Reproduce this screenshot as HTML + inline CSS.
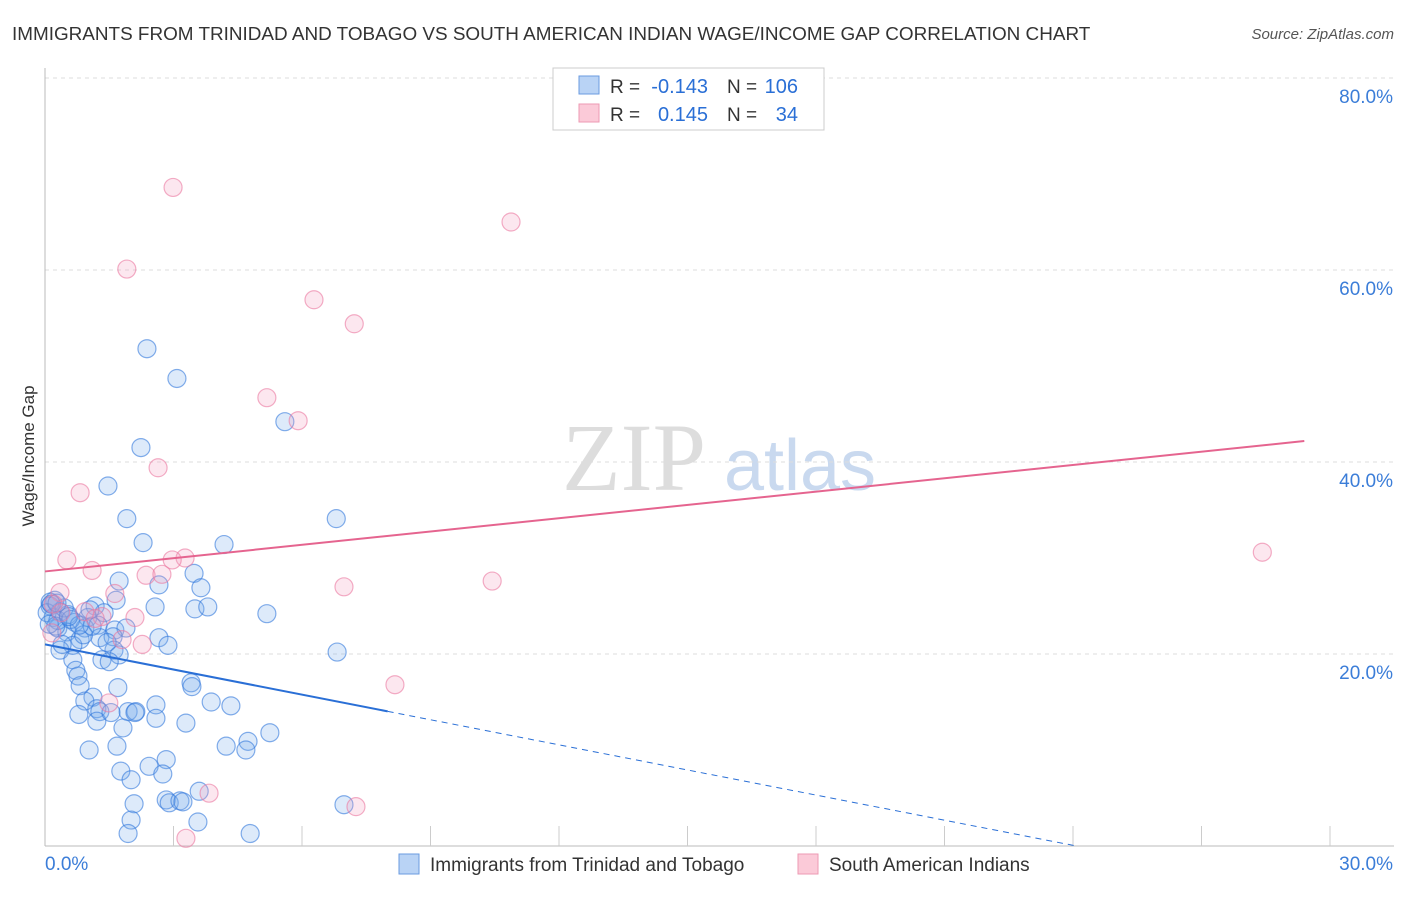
<!DOCTYPE html>
<html><head><meta charset="utf-8"><style>
body{margin:0;background:#fff;font-family:"Liberation Sans",sans-serif;}
svg text{font-family:"Liberation Sans",sans-serif;}
</style></head><body>
<svg id="chart" width="1406" height="892" viewBox="0 0 1406 892">
<text x="12" y="40" font-size="18.9" fill="#333">IMMIGRANTS FROM TRINIDAD AND TOBAGO VS SOUTH AMERICAN INDIAN WAGE/INCOME GAP CORRELATION CHART</text>
<text x="1394" y="39" font-size="15" fill="#555" text-anchor="end" font-style="italic">Source: ZipAtlas.com</text>
<g>
<text x="634" y="490" font-size="96" fill="#ddd" text-anchor="middle" style="font-family:'Liberation Serif',serif">ZIP</text>
<text x="800" y="490" font-size="72" fill="#c9d9ef" text-anchor="middle">atlas</text>
</g>
<g id="grid"></g>
<g id="axes"></g>
<g id="points"></g>
<g id="trends"></g>
<text transform="translate(34,456) rotate(-90)" font-size="17" fill="#333" text-anchor="middle">Wage/Income Gap</text>
<g>
<rect x="553" y="68" width="271" height="62" fill="#fff" stroke="#ccc"/>
<rect x="579" y="76" width="20" height="18" fill="#b9d3f5" stroke="#6a9be0"/>
<rect x="579" y="104" width="20" height="18" fill="#fbcad8" stroke="#ee9ab3"/>
<text x="610" y="93" font-size="19" fill="#333">R =</text>
<text x="708" y="93" font-size="20" fill="#2a6fd6" text-anchor="end">-0.143</text>
<text x="727" y="93" font-size="19" fill="#333">N =</text>
<text x="798" y="93" font-size="20" fill="#2a6fd6" text-anchor="end">106</text>
<text x="610" y="121" font-size="19" fill="#333">R =</text>
<text x="708" y="121" font-size="20" fill="#2a6fd6" text-anchor="end">0.145</text>
<text x="727" y="121" font-size="19" fill="#333">N =</text>
<text x="798" y="121" font-size="20" fill="#2a6fd6" text-anchor="end">34</text>
</g>
<g>
<rect x="399" y="854" width="20" height="20" fill="#b9d3f5" stroke="#6a9be0"/>
<text x="430" y="871" font-size="19" fill="#333">Immigrants from Trinidad and Tobago</text>
<rect x="798" y="854" width="20" height="20" fill="#fbcad8" stroke="#ee9ab3"/>
<text x="829" y="871" font-size="19" fill="#333">South American Indians</text>
</g>
</svg>
<script>
const xTicks=[0,30];
const yTicks=[20,40,60,80];
const blueX=[2.38,3.08,5.6,2.24,1.47,1.91,6.8,2.29,4.18,3.48,1.73,2.66,3.64,1.66,2.57,3.5,3.8,5.18,1.17,0.23,0.12,0.35,0.54,0.19,0.7,1.0,1.38,0.3,0.51,0.93,1.24,1.63,1.89,0.82,1.28,1.59,2.66,2.87,0.65,0.35,1.61,1.73,1.33,0.65,1.5,6.82,0.72,0.77,0.82,1.7,3.41,3.43,1.12,3.88,4.34,2.59,0.93,1.21,1.28,1.94,2.12,2.59,0.79,1.21,1.54,3.29,1.82,5.25,1.03,1.68,2.83,4.23,4.74,4.69,2.43,1.77,2.75,2.01,3.6,2.83,2.9,3.15,3.22,2.08,6.98,2.01,3.57,1.94,4.79,0.12,0.05,0.3,0.45,0.25,0.6,0.9,1.1,1.45,0.4,0.15,0.8,1.05,2.1,0.55,0.28,0.1];
const blueY=[51.8,48.7,44.2,41.5,37.5,34.1,34.1,31.6,31.4,28.4,27.6,27.2,26.9,25.6,24.9,24.7,24.9,24.2,25.0,25.6,25.0,24.4,24.1,23.8,23.3,23.8,24.3,22.7,22.3,22.7,23.0,22.5,22.7,21.5,21.7,21.8,21.7,20.9,20.9,20.4,20.4,19.9,19.4,19.4,19.2,20.2,18.3,17.7,16.7,16.5,17.0,16.6,15.5,15.0,14.6,14.7,15.1,14.3,14.0,14.0,14.0,13.3,13.7,13.0,13.9,12.8,12.3,11.8,10.0,10.4,9.0,10.4,10.9,10.0,8.3,7.8,7.5,6.9,5.7,4.8,4.5,4.7,4.6,4.4,4.3,2.7,2.5,1.3,1.3,25.4,24.3,23.5,24.8,22.9,23.6,22.0,22.9,21.2,21.0,25.2,23.0,24.6,13.9,23.9,25.3,23.1];
const pinkX=[2.99,10.88,1.91,6.28,7.22,5.18,5.91,2.64,0.82,28.42,0.51,3.27,2.97,1.1,2.36,2.73,10.44,6.98,0.35,1.63,0.19,0.37,0.93,2.1,1.33,1.17,0.16,1.8,2.27,8.17,1.49,3.83,7.26,3.29];
const pinkY=[68.6,65.0,60.1,56.9,54.4,46.7,44.3,39.4,36.8,30.6,29.8,30.0,29.8,28.7,28.2,28.3,27.6,27.0,26.4,26.3,25.2,24.3,24.4,23.8,23.9,23.7,22.2,21.5,21.0,16.8,14.9,5.5,4.1,0.8];
const blueTrend=[21.0,-0.872];
const pinkTrend=[28.6,0.462];
const blueSolidEnd=8;
const NS="http://www.w3.org/2000/svg";
const X0=45,X1=1330,Y0=846,Y1=78;
function sx(v){return X0+(v-0)/(30-0)*(X1-X0);}
function sy(v){return Y0-(v-0)/(80-0)*(Y0-Y1);}
function mk(tag,attrs,parent){const e=document.createElementNS(NS,tag);for(const k in attrs)e.setAttribute(k,attrs[k]);parent.appendChild(e);return e;}
const grid=document.getElementById('grid'),axes=document.getElementById('axes');
yTicks.forEach(t=>{
 const l=mk('line',{x1:X0,x2:1394,y1:sy(t),y2:sy(t),stroke:'#ddd','stroke-dasharray':'4,4'},grid);
 
 
 const tx=mk('text',{x:1393,y:sy(t)+25,'font-size':19,fill:'#3b7dd8','text-anchor':'end'},axes);
 tx.textContent=t.toFixed(1)+'%';
 
 
});
mk('line',{x1:X0,x2:X0,y1:68,y2:Y0,stroke:'#bbb'},axes);
mk('line',{x1:X0,x2:1394,y1:Y0,y2:Y0,stroke:'#bbb'},axes);
for(let i=1;i<=10;i++){mk('line',{x1:sx(i*3),x2:sx(i*3),y1:Y0-20,y2:Y0,stroke:'#ccc'},axes);}
xTicks.forEach((t,i)=>{
 const tx=mk('text',{x:i==0?45:1393,y:870,'font-size':19,fill:'#3b7dd8','text-anchor':i==0?'start':'end'},axes);
 tx.textContent=t.toFixed(1)+'%';
 
 
});
const pts=document.getElementById('points');
blueX.forEach((x,i)=>{
 const c=mk('circle',{cx:sx(x),cy:sy(blueY[i]),r:9,fill:'rgba(120,170,235,0.25)',stroke:'rgba(50,120,220,0.6)','stroke-width':1.2},pts);
 
 
});
pinkX.forEach((x,i)=>{
 const c=mk('circle',{cx:sx(x),cy:sy(pinkY[i]),r:9,fill:'rgba(245,160,190,0.25)',stroke:'rgba(235,120,160,0.6)','stroke-width':1.2},pts);
 
 
});
const tr=document.getElementById('trends');
const bY=x=>blueTrend[0]+blueTrend[1]*x;
const bZero=-blueTrend[0]/blueTrend[1];
const b1=mk('line',{x1:sx(0),y1:sy(bY(0)),x2:sx(blueSolidEnd),y2:sy(bY(blueSolidEnd)),stroke:'#2a6fd6','stroke-width':2},tr);


const b2=mk('line',{x1:sx(blueSolidEnd),y1:sy(bY(blueSolidEnd)),x2:sx(bZero),y2:sy(0),stroke:'#2a6fd6','stroke-width':1,'stroke-dasharray':'6,5'},tr);


const p1=mk('line',{x1:sx(0),y1:sy(pinkTrend[0]),x2:sx(29.4),y2:sy(pinkTrend[0]+pinkTrend[1]*29.4),stroke:'#e5648f','stroke-width':2},tr);


</script>
</body></html>
